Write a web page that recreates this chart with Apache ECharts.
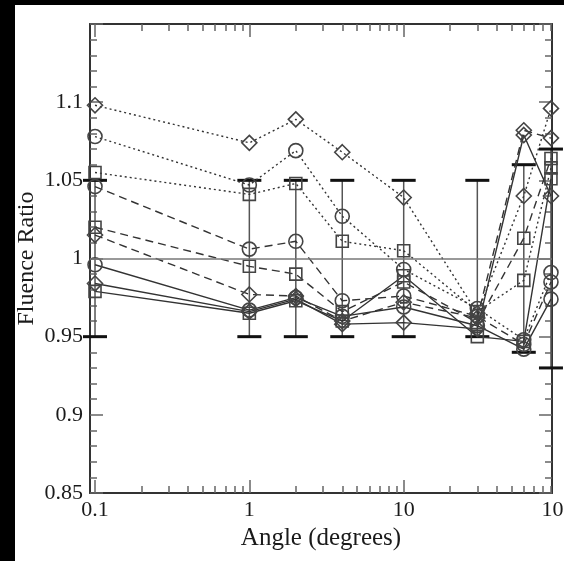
<!DOCTYPE html>
<html>
<head>
<meta charset="utf-8">
<script src="https://cdn.jsdelivr.net/npm/echarts@6/dist/echarts.min.js"></script>
<style>
  html, body { margin: 0; padding: 0; background: #000; }
  #chart { position: absolute; left: 15px; top: 5px; width: 549px; height: 556px; background: #fff; }
</style>
</head>
<body>
<div id="chart"></div>
<script>
// angles of the measured points
const angles = [0.1, 1, 2, 4, 10, 30, 60, 90];

// fluence ratios, one array per symbol / line style
const dotDiamond  = [1.098, 1.074, 1.089, 1.068, 1.039, 0.965, 1.040, 1.096];
const dotCircle   = [1.078, 1.047, 1.069, 1.027, 0.993, 0.968, 0.948, 0.991];
const dotSquare   = [1.055, 1.041, 1.048, 1.011, 1.005, 0.966, 0.986, 1.058];
const dashCircle  = [1.046, 1.006, 1.011, 0.973, 0.976, 0.963, 0.945, 0.985];
const dashSquare  = [1.020, 0.995, 0.990, 0.966, 0.985, 0.959, 1.013, 1.064];
const dashDiamond = [1.015, 0.977, 0.976, 0.960, 0.972, 0.962, 1.082, 1.077];
const solidCircle = [0.996, 0.967, 0.975, 0.963, 0.969, 0.957, 0.942, 0.974];
const solidDiamond= [0.984, 0.966, 0.974, 0.958, 0.959, 0.955, 1.079, 1.040];
const solidSquare = [0.979, 0.965, 0.973, 0.960, 0.989, 0.950, 0.947, 1.051];

// error bars around 1
const errLow  = [0.95, 0.95, 0.95, 0.95, 0.95, 0.95, 0.94, 0.93];
const errHigh = [1.05, 1.05, 1.05, 1.05, 1.05, 1.05, 1.06, 1.07];

// ticks
const majorTicks = [0.1, 1, 10];
const minorTicks = [0.2, 0.3, 0.4, 0.5, 0.6, 0.7, 0.8, 0.9,
                    2, 3, 4, 5, 6, 7, 8, 9,
                    20, 30, 40, 50, 60, 70, 80, 90];
const xLabels = [0.1, 1, 10, 100];

const xMin = 0.0928, xMax = 91.4, xLabelMax = 100;
const font = 'Liberation Serif';
const axisColor = '#333';
const tickColor = '#666';

const chart = echarts.init(document.getElementById('chart'));

function pairs(vals) {
  return angles.map((a, i) => [a, vals[i]]);
}

function curve(name, vals, symbol, size, dash) {
  return {
    name: name,
    type: 'line',
    xAxisIndex: 0,
    yAxisIndex: 0,
    data: pairs(vals),
    symbol: symbol,
    symbolSize: size,
    showAllSymbol: true,
    lineStyle: { color: '#333', width: 1.4, type: dash },
    itemStyle: { color: 'rgba(0,0,0,0)', borderColor: '#444', borderWidth: 1.6 },
    emphasis: { disabled: true },
    z: 3
  };
}

function xAx(position, ticks, len, showLine) {
  return {
    type: 'log',
    gridIndex: 0,
    position: position,
    min: xMin,
    max: xMax,
    axisLine: { show: showLine, onZero: false, lineStyle: { color: axisColor, width: 2 } },
    axisTick: { show: true, inside: true, length: len, customValues: ticks,
                lineStyle: { color: tickColor, width: 1.5 } },
    axisLabel: { show: false },
    splitLine: { show: false },
    minorTick: { show: false }
  };
}

function yAx(position, labels) {
  return {
    type: 'value',
    gridIndex: 0,
    position: position,
    min: 0.85,
    max: 1.15,
    interval: 0.05,
    axisLine: { show: true, onZero: false, lineStyle: { color: axisColor, width: 2 } },
    axisTick: { show: true, inside: true, length: 13, lineStyle: { color: tickColor, width: 1.5 } },
    minorTick: { show: true, splitNumber: 5, length: 7, lineStyle: { color: tickColor, width: 1.5 } },
    splitLine: { show: false },
    axisLabel: { show: labels, showMaxLabel: false, fontFamily: font, fontSize: 22,
                 color: '#1a1a1a', margin: 7 },
    name: labels ? 'Fluence Ratio' : '',
    nameLocation: 'middle',
    nameGap: 51,
    nameMoveOverlap: false,
    nameTextStyle: { fontFamily: font, fontSize: 24, color: '#1a1a1a' }
  };
}

const mainX = xAx('bottom', majorTicks, 13, true);
mainX.name = 'Angle (degrees)';
mainX.nameLocation = 'middle';
mainX.nameGap = 33;
mainX.nameMoveOverlap = false;
mainX.nameTextStyle = { fontFamily: font, fontSize: 25, color: '#1a1a1a' };

const options = {
  animation: false,
  backgroundColor: '#fff',
  grid: [
    { left: 75, top: 19, width: 462, height: 469, outerBoundsMode: 'none' },
    { left: 75, top: 19, width: 468, height: 469, outerBoundsMode: 'none' }
  ],
  xAxis: [
    mainX,
    xAx('bottom', minorTicks, 7, false),
    xAx('top', majorTicks, 13, true),
    xAx('top', minorTicks, 7, false),
    {
      type: 'log',
      gridIndex: 1,
      position: 'bottom',
      min: xMin,
      max: xLabelMax,
      axisLine: { show: false },
      axisTick: { show: false },
      splitLine: { show: false },
      axisLabel: {
        show: true,
        customValues: xLabels,
        fontFamily: font,
        fontSize: 22,
        color: '#1a1a1a',
        margin: 6,
        formatter: v => String(+Number(v).toPrecision(3))
      }
    }
  ],
  yAxis: [
    yAx('left', true),
    yAx('right', false),
    { type: 'value', gridIndex: 1, show: false, min: 0.85, max: 1.15 }
  ],
  series: [
    {
      name: 'errors',
      type: 'custom',
      xAxisIndex: 0,
      yAxisIndex: 0,
      data: angles.map((a, i) => [a, errLow[i], errHigh[i]]),
      renderItem: (params, api) => {
        const lo = api.coord([api.value(0), api.value(1)]);
        const hi = api.coord([api.value(0), api.value(2)]);
        const hw = 12;
        return {
          type: 'group',
          children: [
            { type: 'line', shape: { x1: lo[0], y1: lo[1], x2: hi[0], y2: hi[1] },
              style: { stroke: '#555', lineWidth: 1.5 } },
            { type: 'line', shape: { x1: lo[0] - hw, y1: lo[1], x2: lo[0] + hw, y2: lo[1] },
              style: { stroke: '#111', lineWidth: 3 } },
            { type: 'line', shape: { x1: hi[0] - hw, y1: hi[1], x2: hi[0] + hw, y2: hi[1] },
              style: { stroke: '#111', lineWidth: 3 } }
          ]
        };
      },
      markLine: {
        silent: true,
        symbol: ['none', 'none'],
        label: { show: false },
        lineStyle: { color: '#777', width: 1.5, type: 'solid' },
        data: [{ yAxis: 1 }]
      },
      z: 2
    },
    curve('dotted diamond', dotDiamond, 'diamond', [15, 15], [2, 3]),
    curve('dotted circle', dotCircle, 'circle', 14, [2, 3]),
    curve('dotted square', dotSquare, 'rect', 12, [2, 3]),
    curve('dashed circle', dashCircle, 'circle', 14, [8, 5]),
    curve('dashed square', dashSquare, 'rect', 12, [8, 5]),
    curve('dashed diamond', dashDiamond, 'diamond', [15, 15], [8, 5]),
    curve('solid circle', solidCircle, 'circle', 14, 'solid'),
    curve('solid diamond', solidDiamond, 'diamond', [15, 15], 'solid'),
    curve('solid square', solidSquare, 'rect', 12, 'solid')
  ]
};

chart.setOption(options);
window.addEventListener('resize', () => {
  chart.resize();
});
</script>
</body>
</html>
